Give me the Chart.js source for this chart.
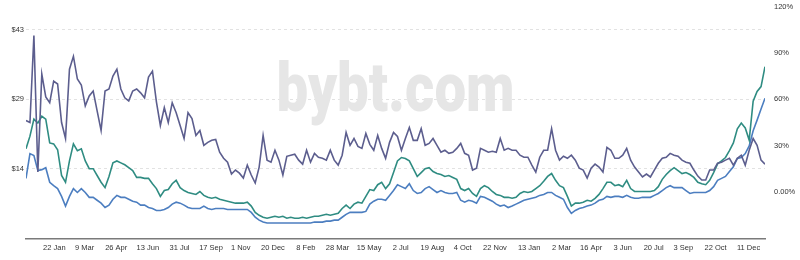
<!DOCTYPE html>
<html>
<head>
<meta charset="utf-8">
<script src="https://cdn.jsdelivr.net/npm/chart.js@4.4.1/dist/chart.umd.min.js"></script>
<style>
  body { margin: 0; background: #fff; }
  canvas { display: block; }
</style>
</head>
<body>
<canvas id="chart" width="800" height="260"></canvas>
<script>
// one sample every 6 days, starting 10 Dec 2017
const startDate = '2017-12-10';
const stepDays = 6;

const tickDates = [
  '2018-01-22', '2018-03-09', '2018-04-26', '2018-06-13', '2018-07-31', '2018-09-17',
  '2018-11-01', '2018-12-20', '2019-02-08', '2019-03-28', '2019-05-15', '2019-07-02',
  '2019-08-19', '2019-10-04', '2019-11-22', '2020-01-13', '2020-03-02', '2020-04-16',
  '2020-06-03', '2020-07-20', '2020-09-03', '2020-10-22', '2020-12-11'
];
const monthNames = ['Jan','Feb','Mar','Apr','May','Jun','Jul','Aug','Sep','Oct','Nov','Dec'];

const priceTicks = [14.34, 28.68, 43.02];
const priceMax = 47.8;
const pctTicks = [0, 30, 60, 90, 120];

// % series (right axis)
const volatility = [
  46.3,45.0,101.3,13.0,76.3,61.6,57.8,71.8,69.9,45.0,
  34.7,79.5,87.8,73.1,69.3,55.8,62.2,65.4,52.6,39.9,
  65.4,66.7,75.0,79.5,66.7,61.0,59.0,65.4,66.7,64.2,
  61.0,74.4,78.2,58.4,43.1,54.6,45.0,57.8,51.4,43.1,
  34.7,51.4,47.5,36.7,39.9,30.3,32.2,33.5,34.1,25.8,
  21.9,19.4,11.7,14.3,12.3,9.1,17.5,11.1,5.9,16.2,
  36.7,20.7,19.4,27.1,20.7,11.1,23.2,23.9,24.5,20.7,
  18.1,27.1,19.4,25.1,22.6,21.9,20.7,27.1,20.7,17.5,
  23.9,38.6,30.3,34.7,29.6,28.3,37.9,30.9,27.1,36.7,
  28.3,21.9,32.2,38.6,36.0,27.1,34.7,41.8,33.5,33.5,
  41.1,30.3,31.5,34.7,30.3,25.8,27.1,25.1,25.8,28.3,
  31.5,25.1,23.9,14.3,15.5,28.3,27.1,25.8,26.4,25.8,
  34.7,27.1,28.3,27.1,27.1,23.9,22.6,22.6,17.5,13.0,
  22.6,27.1,27.1,41.1,27.1,20.7,23.2,21.9,23.9,20.7,
  15.5,14.3,9.1,15.5,18.1,16.2,13.0,29.0,27.1,21.9,
  21.9,23.9,28.3,20.7,16.2,13.0,9.8,11.7,9.8,14.3,
  18.7,21.9,22.6,25.1,23.9,23.2,20.7,19.4,18.7,14.3,
  10.4,7.9,7.9,14.3,14.3,18.7,19.4,20.7,21.9,17.5,
  21.9,23.9,17.5,27.1,34.7,30.3,20.7,18.1
];

// $ series (left axis)
const priceHigh = [
  18.5,21.1,24.6,23.8,25.2,24.6,19.7,19.5,18.3,13.0,
  11.6,16.0,19.5,18.1,18.5,16.0,14.4,14.4,13.0,11.6,
  10.5,12.8,15.6,16.0,15.6,15.2,14.6,14.0,12.6,12.6,
  12.4,12.4,11.3,10.3,8.7,9.9,10.1,11.3,12.0,10.5,
  9.9,9.5,9.3,9.1,9.7,8.9,8.5,8.3,8.5,8.1,
  7.9,7.7,7.5,7.3,7.3,7.3,7.5,6.7,5.4,4.8,
  4.4,4.2,4.4,4.6,4.4,4.6,4.2,4.4,4.2,4.2,
  4.4,4.2,4.4,4.6,4.6,4.8,5.0,4.8,5.0,5.2,
  6.2,6.9,6.2,7.1,7.5,7.3,8.7,10.1,9.9,11.1,
  11.6,10.3,11.3,13.6,16.0,16.7,16.5,16.0,14.4,12.8,
  13.6,14.4,14.6,13.8,13.4,13.2,12.8,13.0,12.6,12.2,
  10.3,9.9,10.3,9.3,8.7,10.3,10.9,10.5,9.7,9.1,
  8.9,8.5,8.5,8.3,8.5,9.3,9.7,9.5,9.7,10.3,
  10.9,11.8,12.8,13.4,12.0,10.9,10.5,8.7,6.7,7.3,
  7.3,7.5,7.9,7.7,8.3,9.1,10.3,11.6,11.6,10.9,
  11.1,10.7,12.0,10.3,9.7,9.7,9.7,9.7,9.7,9.9,
  10.7,12.2,13.2,14.0,14.6,14.0,13.4,13.6,13.2,12.6,
  11.6,11.3,11.1,12.0,13.6,15.4,16.0,16.7,18.1,19.7,
  22.6,23.8,22.8,20.3,28.3,30.3,31.3,35.4
];

const priceLow = [
  12.4,17.5,17.1,14.0,14.2,14.6,11.6,10.9,10.3,8.7,
  6.7,8.7,10.3,9.5,10.3,9.5,8.5,8.5,7.9,7.3,
  6.4,6.9,8.1,8.9,8.5,8.5,8.1,7.7,7.5,6.9,
  6.9,6.4,6.2,5.8,5.8,6.0,6.4,7.1,7.5,7.3,
  6.9,6.4,6.2,6.2,6.2,6.7,6.2,6.0,6.2,6.2,
  6.2,6.0,6.0,6.0,6.0,6.0,6.0,5.4,4.4,3.8,
  3.4,3.2,3.2,3.2,3.2,3.2,3.2,3.2,3.2,3.2,
  3.2,3.2,3.2,3.4,3.4,3.4,3.6,3.6,3.8,3.8,
  4.4,5.0,5.4,5.4,5.4,5.4,5.6,7.1,7.7,8.1,
  8.1,7.9,8.9,9.9,11.1,10.7,10.3,11.3,9.9,9.3,
  9.5,10.3,10.7,10.1,9.5,9.9,9.5,9.3,9.3,9.5,
  7.9,7.5,7.9,7.7,7.3,8.7,8.5,8.1,7.7,7.1,
  6.7,6.9,6.4,6.7,7.1,7.5,7.9,8.1,8.3,8.5,
  8.9,9.1,9.5,9.5,8.9,8.5,8.1,6.4,5.2,5.8,
  6.2,6.4,6.7,6.9,7.3,7.9,8.1,8.7,8.5,8.7,
  8.7,8.5,8.9,8.5,8.3,8.3,8.5,8.5,8.5,8.9,
  9.3,9.9,10.5,10.9,10.5,10.5,10.5,9.9,9.3,9.5,
  9.5,9.5,9.5,9.9,10.7,12.0,12.4,12.8,13.8,14.8,
  16.5,16.7,17.5,19.1,22.2,24.4,26.7,28.9
];

const DAY = 86400000;
const t0 = Date.parse(startDate);
const tickDays = tickDates.map(d => (Date.parse(d) - t0) / DAY);
function dayLabel(day) {
  const d = new Date(t0 + day * DAY);
  return d.getUTCDate() + ' ' + monthNames[d.getUTCMonth()];
}
const toPoints = arr => arr.map((v, i) => ({ x: i * stepDays, y: v }));
const lastDay = (volatility.length - 1) * stepDays;

const font = { family: 'Liberation Sans, Arial, sans-serif', size: 7.5 };

const watermark = {
  id: 'watermark',
  beforeDatasetsDraw(chart) {
    const { ctx, chartArea } = chart;
    const text = 'bybt.com';
    ctx.save();
    ctx.font = '900 68px Roboto';
    ctx.fillStyle = '#e6e6e6';
    const w = ctx.measureText(text).width;
    const cx = (chartArea.left + chartArea.right) / 2;
    const cy = (chartArea.top + chartArea.bottom) / 2;
    ctx.translate(cx - 119, cy - 12);
    ctx.scale(238 / w, 1);
    ctx.textBaseline = 'alphabetic';
    ctx.fillText(text, 0, 0);
    ctx.restore();
  }
};

new Chart(document.getElementById('chart'), {
  type: 'line',
  data: {
    datasets: [
      { data: toPoints(volatility), yAxisID: 'y2', borderColor: '#5c5e8e' },
      { data: toPoints(priceHigh), yAxisID: 'y', borderColor: '#2f8c82' },
      { data: toPoints(priceLow), yAxisID: 'y', borderColor: '#4c7ec0' }
    ]
  },
  options: {
    responsive: false,
    animation: false,
    devicePixelRatio: 1,
    layout: { padding: { top: 5 } },
    elements: {
      line: { borderWidth: 1.6, tension: 0 },
      point: { radius: 0 }
    },
    plugins: { legend: { display: false }, tooltip: { enabled: false } },
    scales: {
      x: {
        type: 'linear',
        min: 0,
        max: lastDay,
        grid: { display: false, drawTicks: false },
        border: { display: true, color: '#7a7a7a', width: 1.5 },
        afterBuildTicks: s => { s.ticks = tickDays.map(v => ({ value: v })); },
        afterFit: s => { s.height = 21.4; },
        ticks: {
          autoSkip: false, maxRotation: 0, padding: 5, color: '#333', font,
          callback: v => dayLabel(v)
        }
      },
      y: {
        position: 'left',
        min: 0,
        max: priceMax,
        grid: { color: '#e2e2e2', drawTicks: false },
        border: { display: false, dash: [3, 3] },
        afterBuildTicks: s => { s.ticks = priceTicks.map(v => ({ value: v })); },
        afterFit: s => { s.width = 26; },
        ticks: { padding: 2, color: '#333', font, callback: v => '$' + Math.round(v) }
      },
      y2: {
        position: 'right',
        min: -30,
        max: 120,
        grid: { display: false },
        border: { display: false },
        afterBuildTicks: s => { s.ticks = pctTicks.map(v => ({ value: v })); },
        afterFit: s => { s.width = 35; },
        ticks: { padding: 1, color: '#333', font, callback: v => v === 0 ? '0.00%' : v + '%' }
      }
    }
  },
  plugins: [watermark]
});
</script>
</body>
</html>
